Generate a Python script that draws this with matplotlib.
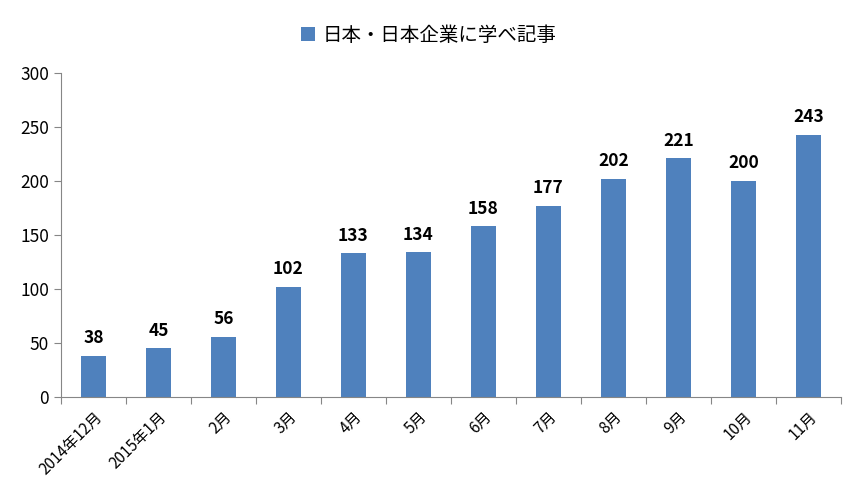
import matplotlib
matplotlib.use("Agg")
import matplotlib.pyplot as plt

plt.rcParams['font.family'] = ['Noto Sans CJK JP', 'DejaVu Sans']

# データ
months = ['2014年12月', '2015年1月', '2月', '3月', '4月', '5月',
          '6月', '7月', '8月', '9月', '10月', '11月']
counts = [38, 45, 56, 102, 133, 134, 158, 177, 202, 221, 200, 243]
series_name = '日本・日本企業に学べ記事'

fig = plt.figure(figsize=(8.58, 4.91), dpi=100)
ax = fig.add_axes([0.0711, 0.1914, 0.909, 0.6599])

x = range(len(months))
bars = ax.bar(x, counts, width=0.39, color='#4F81BD', label=series_name)

for xi, v in zip(x, counts):
    ax.text(xi, v + 8, str(v), ha='center', va='bottom',
            fontsize=12.5, fontweight='bold', color='black')

ax.set_xlim(-0.5, len(months) - 0.5)
ax.set_ylim(0, 300)
ax.set_yticks(range(0, 301, 50))
ax.tick_params(axis='y', labelsize=12.5, color='#868686', length=5, direction='out')

ax.set_xticks([i - 0.5 for i in range(len(months) + 1)], minor=False)
ax.set_xticklabels([])
ax.set_xticks(list(x), minor=True)
ax.set_xticklabels(months, minor=True, rotation=45, ha='right',
                   rotation_mode='anchor', fontsize=11)
ax.tick_params(axis='x', which='major', color='#868686', length=5)
ax.tick_params(axis='x', which='minor', length=0, pad=8)

for s in ['top', 'right']:
    ax.spines[s].set_visible(False)
for s in ['left', 'bottom']:
    ax.spines[s].set_color('#868686')

fig.legend(handles=[bars], labels=[series_name], loc='upper center',
           bbox_to_anchor=(0.5, 0.985), frameon=False, fontsize=14,
           handlelength=0.7, handleheight=0.7, handletextpad=0.4)

fig.savefig('out.png', dpi=100)
